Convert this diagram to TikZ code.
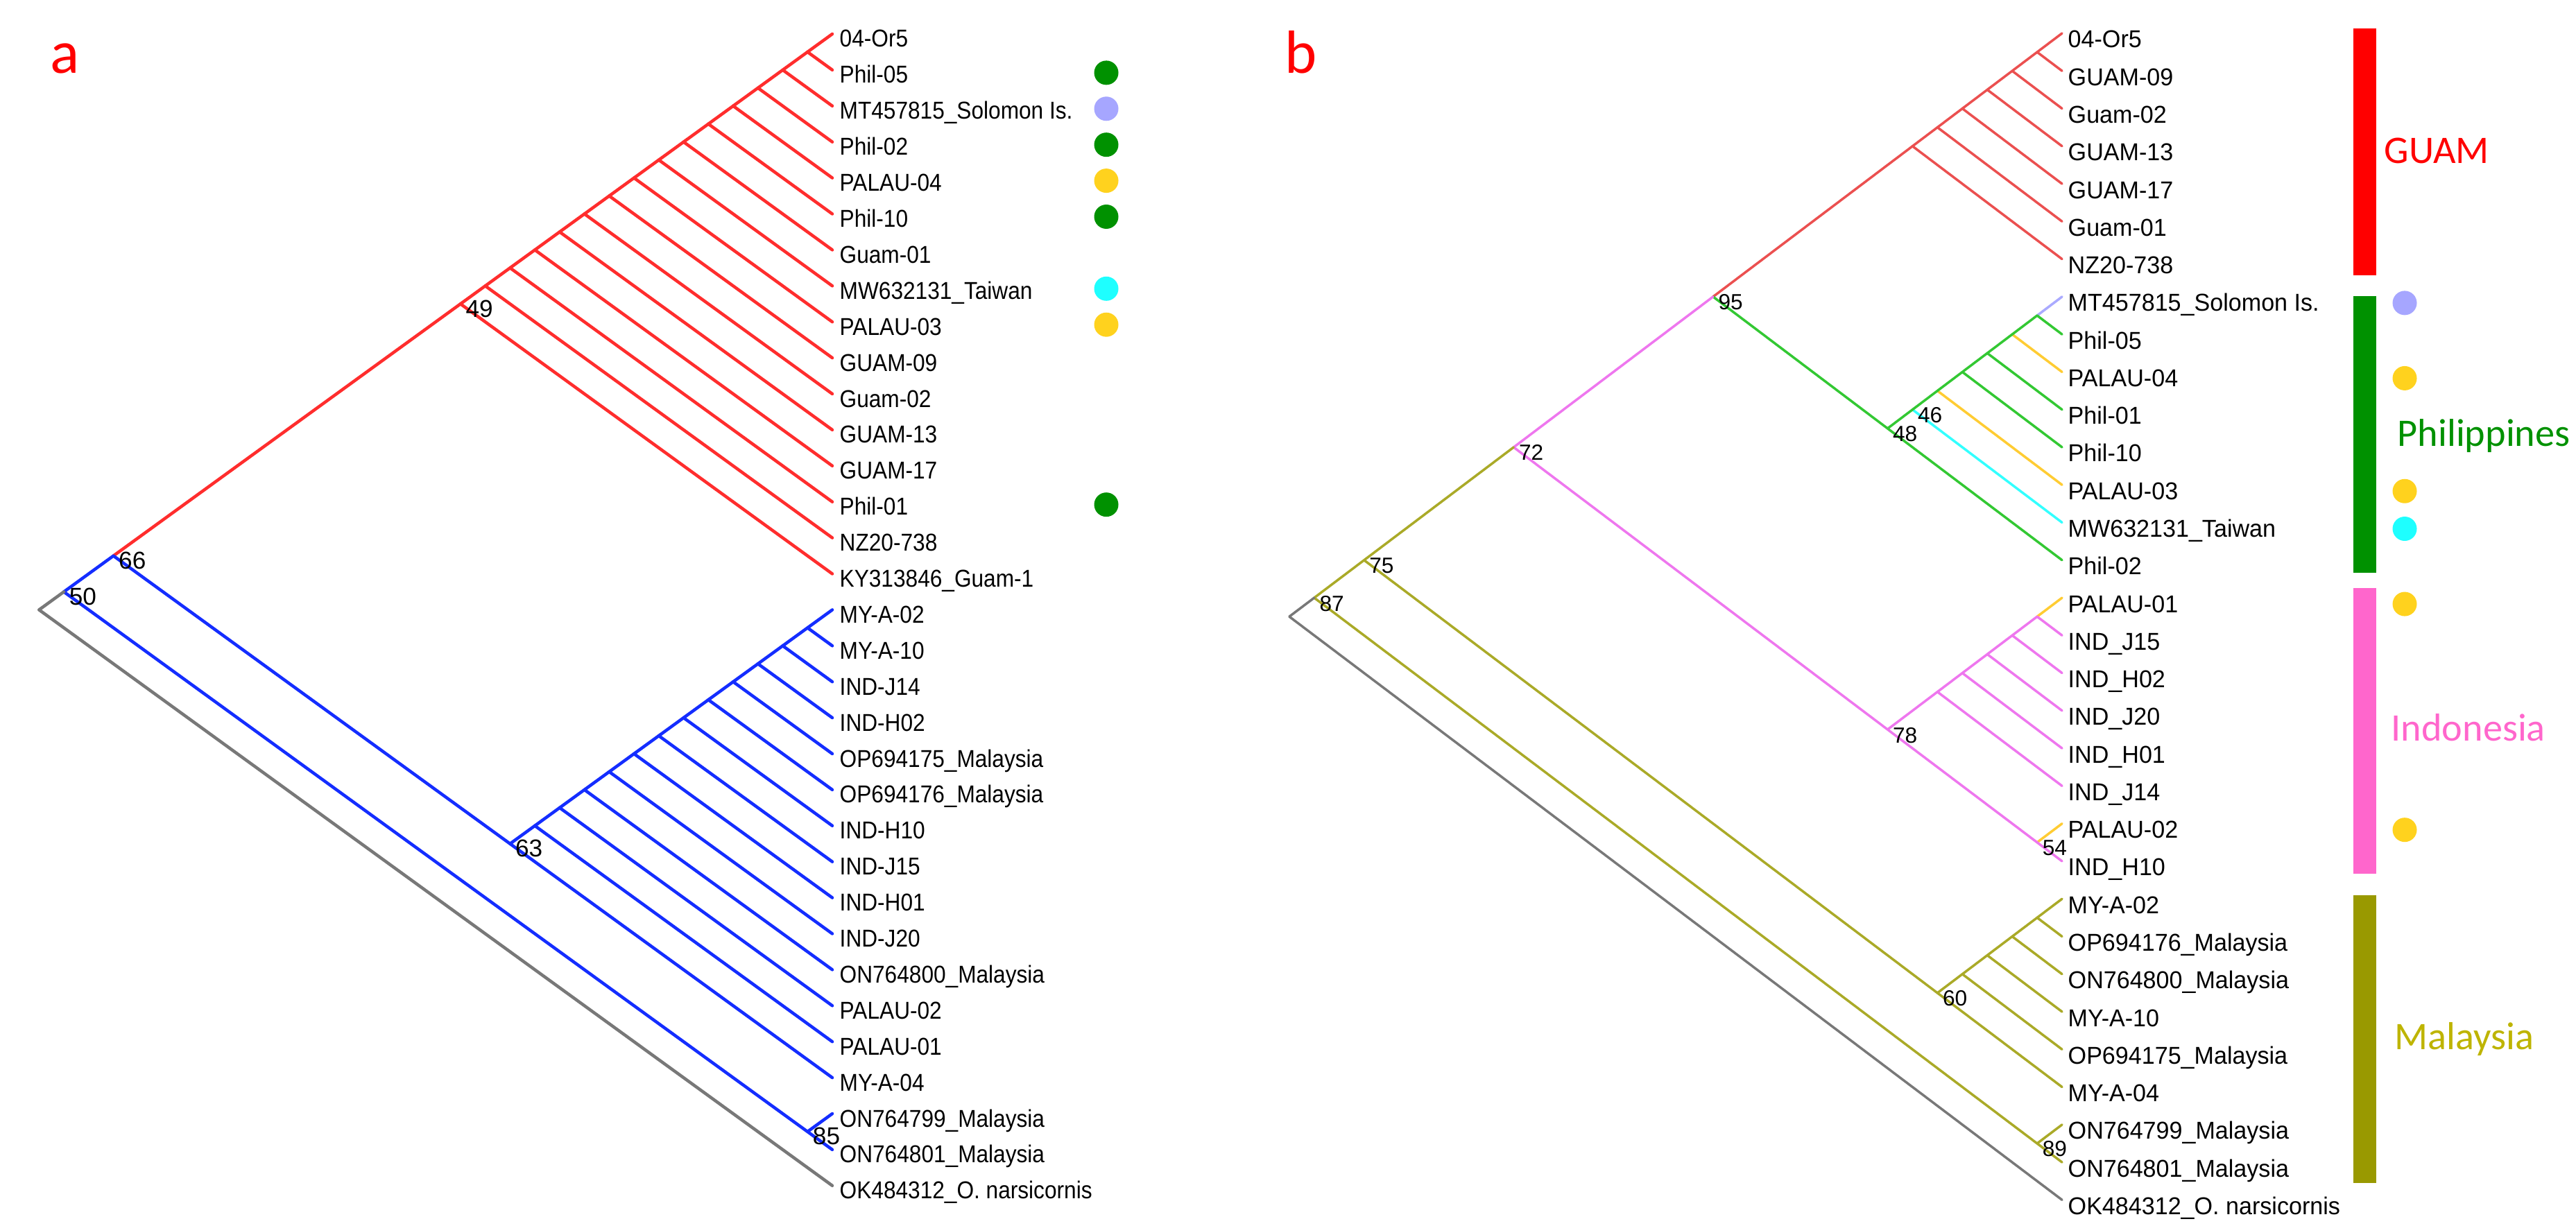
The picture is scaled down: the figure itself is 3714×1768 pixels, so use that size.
\documentclass[tikz,border=0pt]{standalone}
\usepackage{fontspec}
\setmainfont{Liberation Sans}
\newfontfamily\regionfont{Carlito}
\newfontfamily\leaffontA[FakeStretch=0.9]{Liberation Sans}
\newfontfamily\leaffontB[FakeStretch=0.97]{Liberation Sans}

\definecolor{cladeRed}{RGB}{255,45,45}
\definecolor{cladeBlue}{RGB}{20,45,255}
\definecolor{rootGray}{RGB}{120,120,120}
\definecolor{guamRed}{RGB}{235,80,80}
\definecolor{philGreen}{RGB}{51,200,51}
\definecolor{indoPink}{RGB}{238,119,238}
\definecolor{malayOlive}{RGB}{170,170,40}
\definecolor{palauYellow}{RGB}{255,204,51}
\definecolor{taiwanCyan}{RGB}{51,255,255}
\definecolor{solomonLav}{RGB}{170,170,255}
\definecolor{barGreen}{RGB}{0,145,0}
\definecolor{barPink}{RGB}{255,102,204}
\definecolor{barOlive}{RGB}{153,153,0}
\definecolor{malayText}{RGB}{190,180,0}
\definecolor{dotGreen}{RGB}{0,145,0}
\definecolor{dotLavender}{RGB}{166,166,255}
\definecolor{dotYellow}{RGB}{255,210,30}
\definecolor{dotCyan}{RGB}{30,255,255}

% slanted cladogram: the clade of tips p..q sits at the apex of its two slants
\newcommand{\apexA}[3]{\coordinate (#1) at ({1200-35.74*(#3-#2)},{49+25.95*(#2+#3)});}
\newcommand{\apexB}[3]{\coordinate (#1) at ({2973-35.94*(#3-#2)},{48+27.135*(#2+#3)});}

\begin{document}
\begin{tikzpicture}[x=0.1mm, y=-0.1mm,
    branch/.style={line width=0.45mm, line cap=round, line join=round},
    twig/.style={line width=0.35mm, line cap=round, line join=round},
    leaf/.style={anchor=base west, inner sep=0pt, font=\leaffontA\fontsize{10}{12}\selectfont},
    leafb/.style={leaf, font=\leaffontB\fontsize{10}{12}\selectfont},
    boot/.style={anchor=base west, inner sep=0pt, font=\fontsize{10}{12}\selectfont},
    bootb/.style={boot, font=\fontsize{9}{11}\selectfont},
    sitedot/.style={circle, inner sep=0pt, minimum size=3.5mm},
    region/.style={anchor=base west, inner sep=0pt, font=\regionfont\fontsize{16}{19}\selectfont},
    panel/.style={anchor=base west, inner sep=0pt, text=red, font=\regionfont\fontsize{25}{30}\selectfont}]
\useasboundingbox (0,0) rectangle (3714,1768);

% ---------------- panel a ----------------
\node[panel] (pa) at (72,106) {a};

% tips and their names
\foreach \lab [count=\i from 0] in {04-Or5, Phil-05, MT457815\_Solomon Is., Phil-02, PALAU-04, Phil-10,
    Guam-01, MW632131\_Taiwan, PALAU-03, GUAM-09, Guam-02, GUAM-13, GUAM-17, Phil-01, NZ20-738,
    KY313846\_Guam-1, MY-A-02, MY-A-10, IND-J14, IND-H02, OP694175\_Malaysia, OP694176\_Malaysia,
    IND-H10, IND-J15, IND-H01, IND-J20, ON764800\_Malaysia, PALAU-02, PALAU-01, MY-A-04,
    ON764799\_Malaysia, ON764801\_Malaysia, OK484312\_O. narsicornis}{
  \apexA{a\i}{\i}{\i}
  \node[leaf] (la\i) at ([xshift=1mm, yshift=-1.9mm] a\i) {\lab};
}

% red comb (Guam clade)
\coordinate (ar0) at (a0);
\foreach \k [remember=\k as \j (initially 0)] in {1,...,15}{
  \apexA{ar\k}{0}{\k}
  \draw[branch, cladeRed] (ar\k) -- (a\k) (ar\k) -- (ar\j);
}

% blue comb
\coordinate (ab16) at (a16);
\foreach \k [remember=\k as \j (initially 16)] in {17,...,29}{
  \apexA{ab\k}{16}{\k}
  \draw[branch, cladeBlue] (ab\k) -- (a\k) (ab\k) -- (ab\j);
}

% backbone
\apexA{a85}{30}{31}
\apexA{a66}{0}{29}
\apexA{a50}{0}{31}
\apexA{aroot}{0}{32}
\draw[branch, cladeRed] (a66) -- (ar15);
\draw[branch, cladeBlue] (a50) -- (a66) -- (ab29) (a50) -- (a85) -- (a30) (a85) -- (a31);
\draw[branch, rootGray] (aroot) -- (a50) (aroot) -- (a32);

% support values
\foreach \n/\v in {ar15/49, a66/66, a50/50, ab29/63, a85/85}
  \node[boot] (s\n) at ([xshift=0.7mm, yshift=-1.9mm] \n) {\v};

% origin dots
\foreach \i/\c in {1/dotGreen, 2/dotLavender, 3/dotGreen, 4/dotYellow, 5/dotGreen, 7/dotCyan, 8/dotYellow, 13/dotGreen}
  \node[sitedot, fill=\c] (da\i) at (1595,{53+51.9*\i}) {};

% ---------------- panel b ----------------
\node[panel] (pb) at (1852,106) {b};

\foreach \lab [count=\i from 0] in {04-Or5, GUAM-09, Guam-02, GUAM-13, GUAM-17, Guam-01, NZ20-738,
    MT457815\_Solomon Is., Phil-05, PALAU-04, Phil-01, Phil-10, PALAU-03, MW632131\_Taiwan, Phil-02,
    PALAU-01, IND\_J15, IND\_H02, IND\_J20, IND\_H01, IND\_J14, PALAU-02, IND\_H10,
    MY-A-02, OP694176\_Malaysia, ON764800\_Malaysia, MY-A-10, OP694175\_Malaysia, MY-A-04,
    ON764799\_Malaysia, ON764801\_Malaysia, OK484312\_O. narsicornis}{
  \apexB{b\i}{\i}{\i}
  \node[leafb] (lb\i) at ([xshift=0.8mm, yshift=-2.1mm] b\i) {\lab};
}

% Guam comb
\coordinate (gr0) at (b0);
\foreach \k [remember=\k as \j (initially 0)] in {1,...,6}{
  \apexB{gr\k}{0}{\k}
  \draw[twig, guamRed] (gr\k) -- (b\k) (gr\k) -- (gr\j);
}

% Philippines comb, tip branches coloured by origin
\apexB{pc8}{7}{8}
\draw[twig, solomonLav] (pc8) -- (b7);
\draw[twig, philGreen] (pc8) -- (b8);
\foreach \k/\c [remember=\k as \j (initially 8)] in {9/palauYellow, 10/philGreen, 11/philGreen, 12/palauYellow, 13/taiwanCyan}{
  \apexB{pc\k}{7}{\k}
  \draw[twig, \c] (pc\k) -- (b\k);
  \draw[twig, philGreen] (pc\k) -- (pc\j);
}

% Indonesia comb
\apexB{ic16}{15}{16}
\draw[twig, palauYellow] (ic16) -- (b15);
\draw[twig, indoPink] (ic16) -- (b16);
\foreach \k [remember=\k as \j (initially 16)] in {17,...,20}{
  \apexB{ic\k}{15}{\k}
  \draw[twig, indoPink] (ic\k) -- (b\k) (ic\k) -- (ic\j);
}
\apexB{n54}{21}{22}
\draw[twig, palauYellow] (n54) -- (b21);
\draw[twig, indoPink] (n54) -- (b22);

% Malaysia comb
\coordinate (mc23) at (b23);
\foreach \k [remember=\k as \j (initially 23)] in {24,...,28}{
  \apexB{mc\k}{23}{\k}
  \draw[twig, malayOlive] (mc\k) -- (b\k) (mc\k) -- (mc\j);
}

% backbone
\apexB{n48}{7}{14}
\apexB{n95}{0}{14}
\apexB{n78}{15}{22}
\apexB{n72}{0}{22}
\apexB{n75}{0}{28}
\apexB{n89}{29}{30}
\apexB{n87}{0}{30}
\apexB{rootb}{0}{31}
\draw[twig, guamRed] (n95) -- (gr6);
\draw[twig, philGreen] (n95) -- (n48) -- (pc13) (n48) -- (b14);
\draw[twig, indoPink] (n72) -- (n95) (n72) -- (n78) -- (ic20) (n78) -- (n54);
\draw[twig, malayOlive] (n87) -- (n75) -- (n72) (n75) -- (mc28) (n87) -- (n89) -- (b29) (n89) -- (b30);
\draw[twig, rootGray] (rootb) -- (n87) (rootb) -- (b31);

% support values
\foreach \n/\v in {n95/95, n72/72, n75/75, n87/87, n48/48, pc13/46, n78/78, n54/54, mc28/60, n89/89}
  \node[bootb] (s\n) at ([xshift=0.7mm, yshift=-1.9mm] \n) {\v};

% region bars and names
\fill[red] (3393,41) rectangle (3426,397);
\fill[barGreen] (3393,427) rectangle (3426,826);
\fill[barPink] (3393,848) rectangle (3426,1260);
\fill[barOlive] (3393,1291) rectangle (3426,1706);
\node[region, text=red] (lguam) at (3437,235) {GUAM};
\node[region, text=barGreen] (lphil) at (3456,643) {Philippines};
\node[region, text=barPink] (lindo) at (3447,1068) {Indonesia};
\node[region, text=malayText] (lmalay) at (3452,1513) {Malaysia};

% origin dots
\foreach \i/\c in {7/dotLavender, 9/dotYellow, 12/dotYellow, 13/dotCyan, 15/dotYellow, 21/dotYellow}
  \node[sitedot, fill=\c] (db\i) at (3467,{57+54.27*\i}) {};

\end{tikzpicture}
\end{document}
